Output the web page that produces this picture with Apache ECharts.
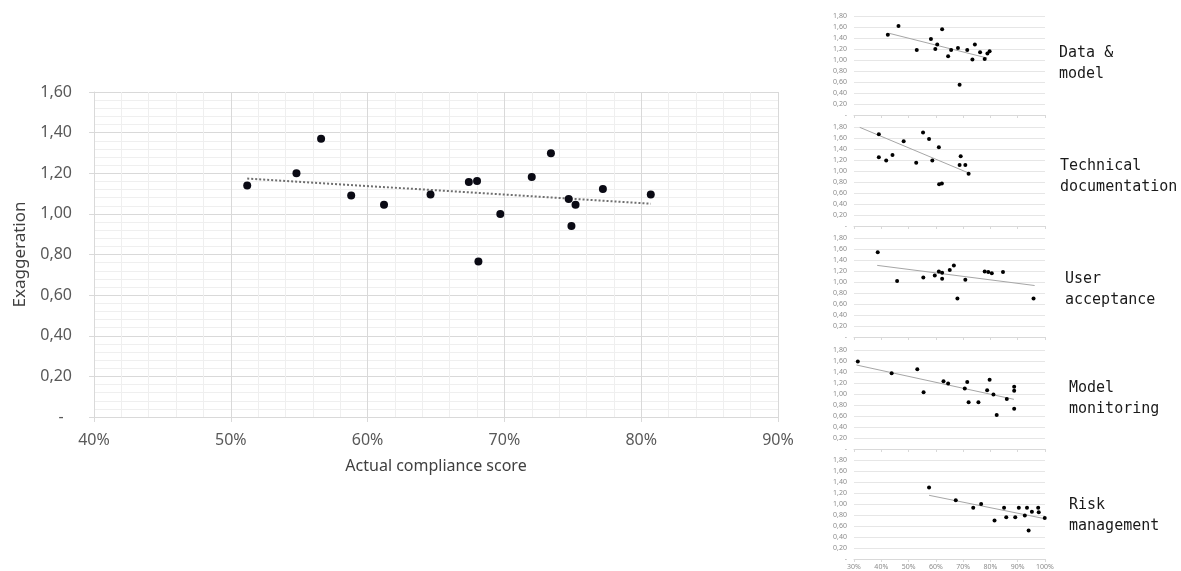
<!DOCTYPE html>
<html>
<head>
<meta charset="utf-8">
<script src="https://cdn.jsdelivr.net/npm/echarts@6/dist/echarts.min.js"></script>
<style>
html,body{margin:0;padding:0;background:#fff;}
#c{width:1181px;height:571px;}
</style>
</head>
<body>
<div id="c"></div>
<script>
// ---------- Main chart data (x = actual compliance score %, y = exaggeration) ----------
const mainX = [51.2, 54.8, 56.6, 58.8, 61.2, 64.6, 67.4, 68.0, 68.1, 69.7, 72.0, 73.4, 74.7, 75.2, 74.9, 77.2, 80.7];
const mainY = [1.14, 1.20, 1.37, 1.09, 1.045, 1.095, 1.157, 1.162, 0.765, 1.00, 1.182, 1.298, 1.073, 1.045, 0.94, 1.122, 1.096];
const mainTrendX = [51.2, 80.7];
const mainTrendY = [1.174, 1.05];
const mainXTicks = [40, 50, 60, 70, 80, 90];
const mainYTicks = [0, 0.2, 0.4, 0.6, 0.8, 1.0, 1.2, 1.4, 1.6];

// ---------- Small panels ----------
const panelTitles = ['Data &\nmodel', 'Technical\ndocumentation', 'User\nacceptance', 'Model\nmonitoring', 'Risk\nmanagement'];

const dataModelX = [42.4, 46.3, 53.0, 58.2, 59.8, 60.5, 62.3, 64.5, 65.6, 68.1, 68.7, 71.5, 73.4, 74.3, 76.2, 77.9, 78.9, 79.7];
const dataModelY = [1.46, 1.62, 1.18, 1.38, 1.20, 1.28, 1.56, 1.07, 1.18, 1.22, 0.55, 1.18, 1.01, 1.28, 1.14, 1.02, 1.12, 1.16];
const dataModelTrendX = [42.9, 78.8];
const dataModelTrendY = [1.485, 1.036];

const techDocX = [39.1, 39.1, 41.8, 44.1, 48.2, 52.8, 55.3, 57.5, 58.7, 61.1, 61.2, 62.2, 68.7, 69.1, 70.8, 72.0];
const techDocY = [1.666, 1.25, 1.19, 1.29, 1.54, 1.15, 1.70, 1.58, 1.19, 1.43, 0.76, 0.775, 1.11, 1.27, 1.11, 0.95];
const techDocTrendX = [32.1, 72.0];
const techDocTrendY = [1.794, 0.964];

const userAccX = [38.7, 45.8, 55.4, 59.6, 61.1, 62.3, 62.3, 65.1, 66.6, 67.9, 70.8, 77.9, 79.2, 80.5, 84.6, 95.8];
const userAccY = [1.54, 1.02, 1.08, 1.12, 1.19, 1.17, 1.06, 1.22, 1.30, 0.70, 1.04, 1.19, 1.18, 1.16, 1.18, 0.70];
const userAccTrendX = [38.5, 96.2];
const userAccTrendY = [1.302, 0.936];

const modelMonX = [31.4, 43.8, 53.2, 55.5, 62.8, 64.5, 70.6, 71.5, 72.0, 75.6, 78.8, 79.7, 81.1, 82.3, 86.0, 88.7, 88.7, 88.7];
const modelMonY = [1.59, 1.376, 1.448, 1.03, 1.23, 1.19, 1.10, 1.22, 0.85, 0.85, 1.067, 1.26, 0.99, 0.62, 0.91, 1.13, 1.06, 0.73];
const modelMonTrendX = [30.9, 88.6];
const modelMonTrendY = [1.527, 0.903];

const riskMgmtX = [57.5, 67.3, 73.7, 76.6, 81.5, 85.0, 85.8, 89.1, 90.4, 92.6, 93.4, 94.0, 95.2, 97.5, 97.7, 99.9];
const riskMgmtY = [1.30, 1.07, 0.93, 1.00, 0.70, 0.93, 0.76, 0.76, 0.93, 0.79, 0.93, 0.52, 0.86, 0.93, 0.85, 0.745];
const riskMgmtTrendX = [57.5, 99.9];
const riskMgmtTrendY = [1.158, 0.733];

const smallXTicks = [30, 40, 50, 60, 70, 80, 90, 100];
const smallYTicks = [0, 0.2, 0.4, 0.6, 0.8, 1.0, 1.2, 1.4, 1.6, 1.8];

const panels = [
  {x: dataModelX, y: dataModelY, tx: dataModelTrendX, ty: dataModelTrendY},
  {x: techDocX, y: techDocY, tx: techDocTrendX, ty: techDocTrendY},
  {x: userAccX, y: userAccY, tx: userAccTrendX, ty: userAccTrendY},
  {x: modelMonX, y: modelMonY, tx: modelMonTrendX, ty: modelMonTrendY},
  {x: riskMgmtX, y: riskMgmtY, tx: riskMgmtTrendX, ty: riskMgmtTrendY}
];

// ---------- Build option ----------
const zip = (a, b) => a.map((v, i) => [v, b[i]]);
const commaFmt = v => (Math.abs(v) < 1e-9 ? '-  ' : v.toFixed(2).replace('.', ','));
const smallFmt = v => (Math.abs(v) < 1e-9 ? '-' : v.toFixed(2).replace('.', ','));

const fontMain = '"Noto Sans", "Open Sans", sans-serif';

const grids = [{left: 94, right: 403, top: 92, bottom: 154}];
const xAxes = [{
  gridIndex: 0, type: 'value',
  min: mainXTicks[0], max: mainXTicks[mainXTicks.length - 1], interval: 10,
  name: 'Actual compliance score', nameLocation: 'middle', nameGap: 41,
  nameTextStyle: {fontFamily: fontMain, fontSize: 16, color: '#404040'},
  axisLine: {show: true, lineStyle: {color: '#d9d9d9'}},
  axisTick: {show: true, length: 5, lineStyle: {color: '#d9d9d9'}},
  axisLabel: {margin: 15, fontFamily: fontMain, fontSize: 16, color: '#595959', formatter: v => v + '%'},
  splitLine: {show: true, lineStyle: {color: '#d9d9d9', width: 1}},
  minorTick: {show: false, splitNumber: 5},
  minorSplitLine: {show: true, lineStyle: {color: '#efefef', width: 1}}
}];
const yAxes = [{
  gridIndex: 0, type: 'value',
  min: mainYTicks[0], max: mainYTicks[mainYTicks.length - 1], interval: 0.2,
  name: 'Exaggeration', nameLocation: 'middle', nameGap: 65, nameRotate: 90,
  nameTextStyle: {fontFamily: fontMain, fontSize: 17, color: '#404040'},
  axisLine: {show: true, lineStyle: {color: '#d9d9d9'}},
  axisTick: {show: true, length: 5, lineStyle: {color: '#d9d9d9'}},
  axisLabel: {margin: 22, fontFamily: fontMain, fontSize: 16, color: '#595959', formatter: commaFmt},
  splitLine: {show: true, lineStyle: {color: '#d9d9d9', width: 1}},
  minorTick: {show: false, splitNumber: 5},
  minorSplitLine: {show: true, lineStyle: {color: '#efefef', width: 1}}
}];
const series = [
  {type: 'line', xAxisIndex: 0, yAxisIndex: 0, data: zip(mainTrendX, mainTrendY), symbol: 'none',
   lineStyle: {color: '#6f6f6f', width: 2, type: [2, 2]}, silent: true, z: 2},
  {type: 'scatter', xAxisIndex: 0, yAxisIndex: 0, data: zip(mainX, mainY), symbolSize: 8,
   itemStyle: {color: '#0a0a14', opacity: 1}, z: 3}
];

const smallTops = [16, 127, 238, 350, 460];
const graphics = [];
const titlePos = [[1059, 53], [1060, 166], [1065, 279], [1069, 388], [1069, 505]];

panels.forEach((p, i) => {
  const gi = i + 1;
  grids.push({left: 854, width: 191, top: smallTops[i], height: 99});
  xAxes.push({
    gridIndex: gi, type: 'value', min: smallXTicks[0], max: smallXTicks[smallXTicks.length - 1], interval: 10,
    axisLine: {show: true, lineStyle: {color: '#d9d9d9'}},
    axisTick: {show: true, length: 3, lineStyle: {color: '#d9d9d9'}},
    axisLabel: {show: i === 4, margin: 4, fontFamily: fontMain, fontSize: 7, color: '#8c8c8c', formatter: v => v + '%'},
    splitLine: {show: false}
  });
  yAxes.push({
    gridIndex: gi, type: 'value', min: smallYTicks[0], max: smallYTicks[smallYTicks.length - 1], interval: 0.2,
    axisLine: {show: false}, axisTick: {show: false},
    axisLabel: {margin: 7, fontFamily: fontMain, fontSize: 7, color: '#8c8c8c', formatter: smallFmt},
    splitLine: {show: true, lineStyle: {color: '#e6e6e6', width: 1}}
  });
  series.push({type: 'line', xAxisIndex: gi, yAxisIndex: gi, data: zip(p.tx, p.ty), symbol: 'none',
    lineStyle: {color: '#a6a6a6', width: 1}, silent: true, z: 2});
  series.push({type: 'scatter', xAxisIndex: gi, yAxisIndex: gi, data: zip(p.x, p.y), symbolSize: 4,
    itemStyle: {color: '#000', opacity: 1}, z: 3});
  graphics.push({
    type: 'text', left: titlePos[i][0], top: titlePos[i][1] - 10,
    style: {text: panelTitles[i], font: '15px "DejaVu Sans Mono", "Liberation Mono", monospace',
      fill: '#1a1a1a', lineHeight: 21}
  });
});

const chart = echarts.init(document.getElementById('c'), null, {renderer: 'canvas'});
chart.setOption({
  backgroundColor: '#ffffff',
  animation: false,
  grid: grids,
  xAxis: xAxes,
  yAxis: yAxes,
  series: series,
  graphic: graphics
});
</script>
</body>
</html>
